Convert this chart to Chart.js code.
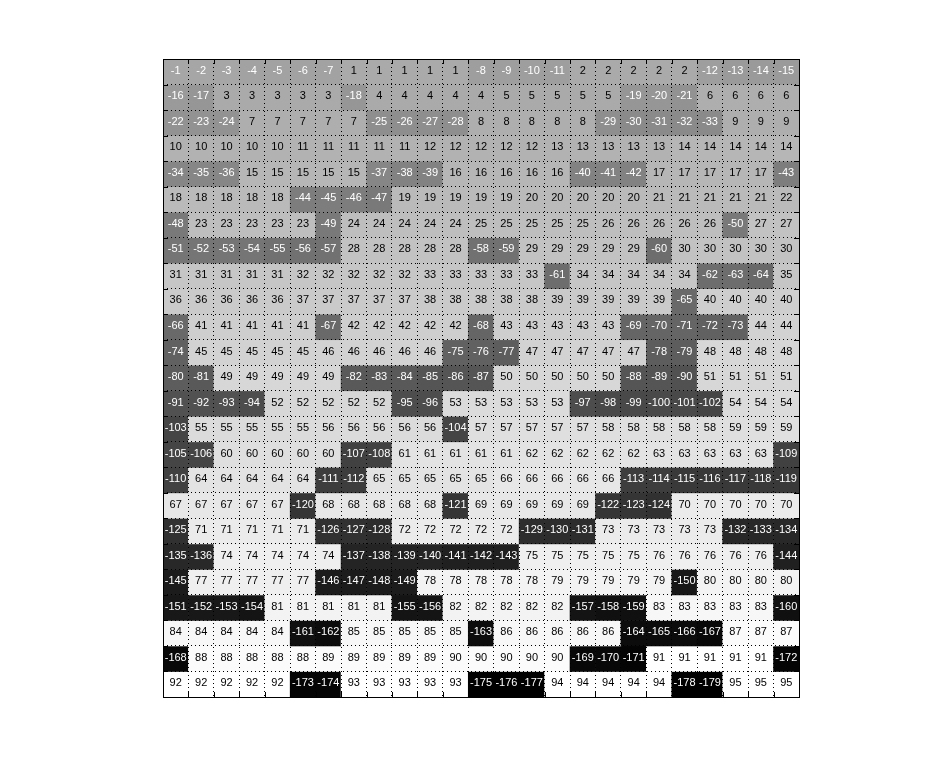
<!DOCTYPE html>
<html>
<head>
<meta charset="utf-8">
<script src="https://cdn.jsdelivr.net/npm/chart.js@4/dist/chart.umd.min.js"></script>
<style>
html,body{margin:0;padding:0;background:#fff;}
#wrap{width:931px;height:782px;position:relative;}
</style>
</head>
<body>
<div id="wrap"><canvas id="c" width="931" height="782"></canvas></div>
<script>
// ---- data ----
const columns = ['1','2','3','4','5','6','7','8','9','10','11','12','13','14','15','16','17','18','19','20','21','22','23','24','25'];
const row01 = [-1,-2,-3,-4,-5,-6,-7,1,1,1,1,1,-8,-9,-10,-11,2,2,2,2,2,-12,-13,-14,-15];
const row02 = [-16,-17,3,3,3,3,3,-18,4,4,4,4,4,5,5,5,5,5,-19,-20,-21,6,6,6,6];
const row03 = [-22,-23,-24,7,7,7,7,7,-25,-26,-27,-28,8,8,8,8,8,-29,-30,-31,-32,-33,9,9,9];
const row04 = [10,10,10,10,10,11,11,11,11,11,12,12,12,12,12,13,13,13,13,13,14,14,14,14,14];
const row05 = [-34,-35,-36,15,15,15,15,15,-37,-38,-39,16,16,16,16,16,-40,-41,-42,17,17,17,17,17,-43];
const row06 = [18,18,18,18,18,-44,-45,-46,-47,19,19,19,19,19,20,20,20,20,20,21,21,21,21,21,22];
const row07 = [-48,23,23,23,23,23,-49,24,24,24,24,24,25,25,25,25,25,26,26,26,26,26,-50,27,27];
const row08 = [-51,-52,-53,-54,-55,-56,-57,28,28,28,28,28,-58,-59,29,29,29,29,29,-60,30,30,30,30,30];
const row09 = [31,31,31,31,31,32,32,32,32,32,33,33,33,33,33,-61,34,34,34,34,34,-62,-63,-64,35];
const row10 = [36,36,36,36,36,37,37,37,37,37,38,38,38,38,38,39,39,39,39,39,-65,40,40,40,40];
const row11 = [-66,41,41,41,41,41,-67,42,42,42,42,42,-68,43,43,43,43,43,-69,-70,-71,-72,-73,44,44];
const row12 = [-74,45,45,45,45,45,46,46,46,46,46,-75,-76,-77,47,47,47,47,47,-78,-79,48,48,48,48];
const row13 = [-80,-81,49,49,49,49,49,-82,-83,-84,-85,-86,-87,50,50,50,50,50,-88,-89,-90,51,51,51,51];
const row14 = [-91,-92,-93,-94,52,52,52,52,52,-95,-96,53,53,53,53,53,-97,-98,-99,-100,-101,-102,54,54,54];
const row15 = [-103,55,55,55,55,55,56,56,56,56,56,-104,57,57,57,57,57,58,58,58,58,58,59,59,59];
const row16 = [-105,-106,60,60,60,60,60,-107,-108,61,61,61,61,61,62,62,62,62,62,63,63,63,63,63,-109];
const row17 = [-110,64,64,64,64,64,-111,-112,65,65,65,65,65,66,66,66,66,66,-113,-114,-115,-116,-117,-118,-119];
const row18 = [67,67,67,67,67,-120,68,68,68,68,68,-121,69,69,69,69,69,-122,-123,-124,70,70,70,70,70];
const row19 = [-125,71,71,71,71,71,-126,-127,-128,72,72,72,72,72,-129,-130,-131,73,73,73,73,73,-132,-133,-134];
const row20 = [-135,-136,74,74,74,74,74,-137,-138,-139,-140,-141,-142,-143,75,75,75,75,75,76,76,76,76,76,-144];
const row21 = [-145,77,77,77,77,77,-146,-147,-148,-149,78,78,78,78,78,79,79,79,79,79,-150,80,80,80,80];
const row22 = [-151,-152,-153,-154,81,81,81,81,81,-155,-156,82,82,82,82,82,-157,-158,-159,83,83,83,83,83,-160];
const row23 = [84,84,84,84,84,-161,-162,85,85,85,85,85,-163,86,86,86,86,86,-164,-165,-166,-167,87,87,87];
const row24 = [-168,88,88,88,88,88,89,89,89,89,89,90,90,90,90,90,-169,-170,-171,91,91,91,91,91,-172];
const row25 = [92,92,92,92,92,-173,-174,93,93,93,93,93,-175,-176,-177,94,94,94,94,94,-178,-179,95,95,95];
const rows = [row01,row02,row03,row04,row05,row06,row07,row08,row09,row10,row11,row12,row13,row14,row15,row16,row17,row18,row19,row20,row21,row22,row23,row24,row25];

// ---- colour map (64-level gray, like imagesc) ----
let vmin = Infinity, vmax = -Infinity;
rows.forEach(r => r.forEach(v => { if (v < vmin) vmin = v; if (v > vmax) vmax = v; }));
function grayFor(v) {
  let idx = Math.floor((v - vmin) / (vmax - vmin) * 64);
  if (idx > 63) idx = 63;
  const g = Math.round(idx / 63 * 255);
  return 'rgb(' + g + ',' + g + ',' + g + ')';
}

const datasets = rows.map((r, ri) => ({
  label: 'row ' + (ri + 1),
  data: r.map(() => [ri, ri + 1]),
  values: r,
  backgroundColor: r.map(grayFor),
  borderWidth: 0,
  barPercentage: 1,
  categoryPercentage: 1,
  grouped: false
}));

const labelPlugin = {
  id: 'cellLabels',
  afterDatasetsDraw(chart) {
    const ctx = chart.ctx;
    ctx.save();
    ctx.font = '11px "Liberation Sans", Arial, sans-serif';
    ctx.textAlign = 'center';
    ctx.textBaseline = 'middle';
    chart.data.datasets.forEach((ds, di) => {
      const meta = chart.getDatasetMeta(di);
      meta.data.forEach((el, i) => {
        const v = ds.values[i];
        ctx.fillStyle = v < 0 ? '#ffffff' : '#000000';
        const cy = (el.y + el.base) / 2;
        ctx.fillText(String(v), el.x, cy - 1);
      });
    });
    ctx.restore();
  }
};

const framePlugin = {
  id: 'frame',
  afterDraw(chart) {
    const ctx = chart.ctx;
    const a = chart.chartArea;
    const xs = chart.scales.x, ys = chart.scales.y;
    const tl = 5;
    ctx.save();
    ctx.strokeStyle = '#000';
    ctx.lineWidth = 1;
    ctx.beginPath();
    const n = chart.data.labels.length;
    for (let i = 1; i < n; i++) {
      const px = Math.round((xs.getPixelForValue(i - 1) + xs.getPixelForValue(i)) / 2) + 0.5;
      ctx.moveTo(px, a.top); ctx.lineTo(px, a.top + tl);
      ctx.moveTo(px, a.bottom); ctx.lineTo(px, a.bottom - tl);
    }
    for (let k = 1; k < rows.length; k++) {
      const py = Math.round(ys.getPixelForValue(k)) + 0.5;
      ctx.moveTo(a.left, py); ctx.lineTo(a.left + tl, py);
      ctx.moveTo(a.right, py); ctx.lineTo(a.right - tl, py);
    }
    ctx.stroke();
    ctx.strokeRect(Math.round(a.left) + 0.5, Math.round(a.top) + 0.5,
                   Math.round(a.right - a.left), Math.round(a.bottom - a.top));
    ctx.restore();
  }
};

new Chart(document.getElementById('c'), {
  type: 'bar',
  data: { labels: columns, datasets: datasets },
  options: {
    responsive: false,
    animation: false,
    events: [],
    layout: { padding: { left: 163, top: 59, right: 132, bottom: 85 } },
    plugins: { legend: { display: false }, tooltip: { enabled: false } },
    scales: {
      x: {
        type: 'category',
        offset: true,
        ticks: { display: false },
        grid: { display: true, offset: true, color: '#000', lineWidth: 1, drawTicks: false, z: 1 },
        border: { display: false, dash: [1, 3] }
      },
      y: {
        type: 'linear',
        min: 0,
        max: 25,
        reverse: true,
        ticks: { display: false, stepSize: 1 },
        grid: { display: true, color: '#000', lineWidth: 1, drawTicks: false, z: 1 },
        border: { display: false, dash: [1, 3] }
      }
    }
  },
  plugins: [labelPlugin, framePlugin]
});
</script>
</body>
</html>
